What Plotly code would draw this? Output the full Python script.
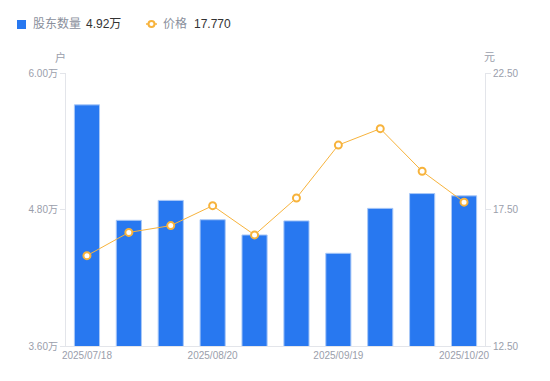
import plotly.graph_objects as go

dates = ["2025/07/18", "2025/07/31", "2025/08/08", "2025/08/20", "2025/08/29",
         "2025/09/10", "2025/09/19", "2025/09/30", "2025/10/10", "2025/10/20"]
holders = [5.72, 4.705, 4.88, 4.71, 4.576, 4.70, 4.415, 4.81, 4.94, 4.92]  # 万户
price = [15.81, 16.66, 16.91, 17.64, 16.57, 17.92, 19.86, 20.46, 18.90, 17.77]
shown_ticks = ["2025/07/18", "2025/08/20", "2025/09/19", "2025/10/20"]
left_ticks = [3.6, 4.8, 6.0]
left_labels = ["3.60万", "4.80万", "6.00万"]
right_ticks = [12.5, 17.5, 22.5]
right_labels = ["12.50", "17.50", "22.50"]

BLUE = "#2878f0"
ORANGE = "#f7b33c"
GRAY = "#9a9eab"
FONT = "Liberation Sans, Noto Sans CJK SC"

fig = go.Figure()
fig.add_trace(go.Bar(
    x=dates, y=holders, marker=dict(color=BLUE, line=dict(color="#a9c8f7", width=1)),
    width=0.6, yaxis="y", showlegend=False))
fig.add_trace(go.Scatter(
    x=dates, y=price, mode="lines+markers", yaxis="y2",
    line=dict(color=ORANGE, width=1),
    marker=dict(size=7, color="white", line=dict(color=ORANGE, width=2)),
    showlegend=False))

fig.update_layout(
    width=550, height=381,
    margin=dict(l=66, r=65, t=73, b=35),
    plot_bgcolor="white", paper_bgcolor="white",
    font=dict(family=FONT, size=10, color=GRAY),
    xaxis=dict(type="category", tickmode="array", tickvals=shown_ticks,
               ticktext=shown_ticks, showgrid=False, showline=True,
               linecolor="#e3e5ea", linewidth=1, ticks="", ticklen=0,
               tickfont=dict(size=10, color=GRAY), range=[-0.5, 9.5]),
    yaxis=dict(range=[3.6, 6.0], tickvals=left_ticks, ticktext=left_labels,
               showgrid=False, showline=True, linecolor="#e3e5ea", linewidth=1,
               ticks="outside", ticklen=5, tickcolor="#e3e5ea", zeroline=False,
               tickfont=dict(size=10, color=GRAY)),
    yaxis2=dict(range=[12.5, 22.5], tickvals=right_ticks, ticktext=right_labels,
                overlaying="y", side="right", showgrid=False, showline=True,
                linecolor="#e3e5ea", linewidth=1, ticks="outside", ticklen=5,
                tickcolor="#e3e5ea", zeroline=False,
                tickfont=dict(size=10, color=GRAY)),
)

W, H = 550, 381
pw, ph = W - 66 - 65, H - 73 - 35


def px(xp):
    return (xp - 66) / pw


def py(yp):
    return (H - 35 - yp) / ph


annots = [
    ("户", 60, 57, "center", GRAY, 11),
    ("元", 490, 57, "center", GRAY, 11),
    ("股东数量", 31, 24, "left", "#8a8f9c", 12),
    ("4.92万", 84, 24, "left", "#333333", 12),
    ("价格", 161, 24, "left", "#8a8f9c", 12),
    ("17.770", 192, 24, "left", "#333333", 12),
]
for t, x, y, anc, col, sz in annots:
    fig.add_annotation(text=t, x=px(x), y=py(y), xref="paper", yref="paper",
                       xanchor=anc, yanchor="middle", showarrow=False,
                       font=dict(size=sz, color=col, family=FONT))

fig.add_shape(type="rect", xref="paper", yref="paper",
              x0=px(17), x1=px(26), y0=py(29), y1=py(20),
              fillcolor=BLUE, line=dict(width=0))
fig.add_shape(type="line", xref="paper", yref="paper",
              x0=px(146), x1=px(157), y0=py(24), y1=py(24),
              line=dict(color=ORANGE, width=1.5))
fig.add_shape(type="circle", xref="paper", yref="paper",
              x0=px(148.5), x1=px(154.5), y0=py(27), y1=py(21),
              fillcolor="white", line=dict(color=ORANGE, width=2))

fig.write_html("out.html", config={"displayModeBar": False},
               post_script="document.body.style.margin='0';document.body.style.overflow='hidden';")
